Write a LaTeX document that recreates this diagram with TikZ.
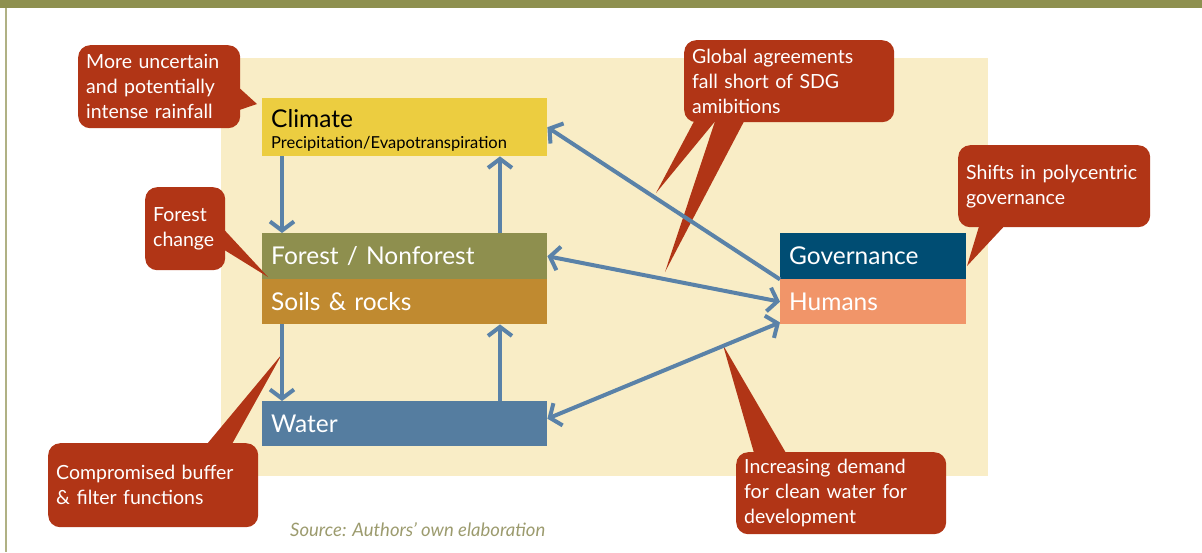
\documentclass[tikz,border=0pt]{standalone}
\usepackage{fontspec}
\setmainfont{Lato}
\usetikzlibrary{arrows.meta,calc}
\definecolor{olivebar}{HTML}{8E904F}
\definecolor{creambg}{HTML}{F9EDC6}
\definecolor{climyel}{HTML}{ECCD40}
\definecolor{forestgr}{HTML}{8E8F4E}
\definecolor{soilbr}{HTML}{C08A30}
\definecolor{waterbl}{HTML}{557DA0}
\definecolor{govblue}{HTML}{004D73}
\definecolor{humsalm}{HTML}{F19569}
\definecolor{flowblue}{HTML}{5A82A8}
\definecolor{callred}{HTML}{B13516}
\definecolor{srcolive}{HTML}{9C9B6E}

\begin{document}
\begin{tikzpicture}[x=1pt, y=-1pt,
  box/.style={anchor=north west, inner xsep=9pt, inner ysep=0pt, align=left, text=white, font=\fontsize{24.5}{28}\selectfont},
  callout/.style={anchor=north west, fill=callred, rounded corners=12pt, inner xsep=8pt, inner ysep=0pt, align=left, text=white, font=\fontsize{19.5}{25}\selectfont},
  flow/.style={draw=flowblue, line width=4pt, -{Straight Barb[length=9pt,width=24pt]}},
  twoway/.style={flow, {Straight Barb[length=9pt,width=24pt]}-{Straight Barb[length=9pt,width=24pt]}}]
\useasboundingbox (0,0) rectangle (1202,552);
\fill[olivebar] (0,0) rectangle (1202,8); % top bar
\draw[olivebar!70, line width=1.5pt] (6,8) -- (6,552); % left rule
\fill[creambg] (221,58) rectangle (988,476); % background

% boxes
\node[box, fill=climyel, text=black, text width=267pt, minimum height=58pt] (clim) at (262,98) {\fontsize{24.5}{24}\selectfont\rule{0pt}{25pt}Climate\\[-7pt]\fontsize{16.5}{18}\selectfont Precipitation/Evapotranspiration};
\node[box, fill=forestgr, text width=267pt, minimum height=46pt] (forest) at (262,233) {Forest / Nonforest};
\node[box, fill=soilbr, text width=267pt, minimum height=45pt] (soil) at (262,279) {Soils \& rocks};
\node[box, fill=waterbl, text width=267pt, minimum height=45pt] (water) at (262,401) {Water};
\node[box, fill=govblue, text width=168pt, minimum height=46pt] (gov) at (780,233) {Governance};
\node[box, fill=humsalm, text width=168pt, minimum height=45pt] (hum) at (780,279) {Humans};

% callouts
\coordinate (rainTip) at (257,104);
\coordinate (fchgTip) at (268,277);
\coordinate (globTipA) at (656,193);
\coordinate (globTipB) at (665,272);
\coordinate (shiftTip) at (967,266);
\coordinate (buffTip) at (282,354);
\coordinate (demTip) at (723,345);
\node[callout, text width=146pt, minimum height=83pt] (rain) at (78,45) {More uncertain\\and potentially\\intense rainfall};
\fill[callred] ([xshift=-1pt,yshift=-43pt]rain.north east) -- (rainTip) -- ([xshift=-1pt,yshift=-65pt]rain.north east) -- cycle;
\node[callout, text width=64pt, minimum height=83pt] (fchg) at (145,187) {Forest\\change};
\fill[callred] ([xshift=-1pt,yshift=-43pt]fchg.north east) -- (fchgTip) -- ([xshift=-1pt,yshift=-63pt]fchg.north east) -- cycle;
\node[callout, text width=194pt, minimum height=82pt] (glob) at (684,40) {Global agreements\\fall short of SDG\\amibitions};
\fill[callred] ([xshift=10pt,yshift=1pt]glob.south west) -- (globTipA) -- ([xshift=31pt,yshift=1pt]glob.south west) -- cycle;
\fill[callred] ([xshift=31pt,yshift=1pt]glob.south west) -- (globTipB) -- ([xshift=60pt,yshift=1pt]glob.south west) -- cycle;
\node[callout, text width=176pt, minimum height=82pt] (shift) at (958,145) {Shifts in polycentric\\governance};
\fill[callred] ([xshift=21pt,yshift=1pt]shift.south west) -- (shiftTip) -- ([xshift=46pt,yshift=1pt]shift.south west) -- cycle;
\node[callout, text width=194pt, minimum height=84pt] (buff) at (48,443) {Compromised buffer\\\& filter functions};
\fill[callred] ([xshift=159pt,yshift=-1pt]buff.north west) -- (buffTip) -- ([xshift=184pt,yshift=-1pt]buff.north west) -- cycle;
\node[callout, text width=194pt, minimum height=82pt] (dem) at (736,452) {Increasing demand\\for clean water for\\development};
\fill[callred] ([xshift=18pt,yshift=-1pt]dem.north west) -- (demTip) -- ([xshift=50pt,yshift=-1pt]dem.north west) -- cycle;

% arrows
\draw[flow] ([xshift=20pt]clim.south west) -- ([xshift=20pt]forest.north west); % climate to forest
\draw[flow] ([xshift=238pt]forest.north west) -- ([xshift=238pt]clim.south west); % forest to climate
\draw[flow] ([xshift=20pt]soil.south west) -- ([xshift=20pt]water.north west); % soils to water
\draw[flow] ([xshift=238pt]water.north west) -- ([xshift=238pt]soil.south west); % water to soils
\draw[flow] (gov.south west) -- (clim.east); % governance to climate
\draw[twoway] (forest.east) -- (hum.west); % forest and humans
\draw[twoway] ([yshift=5pt]water.east) -- ([yshift=2pt]hum.south west); % water and humans

\node[anchor=west, inner sep=0pt, text=srcolive, font=\fontsize{18.5}{20}\selectfont\itshape] (src) at (290,530) {Source: Authors’ own elaboration};
\end{tikzpicture}
\end{document}
